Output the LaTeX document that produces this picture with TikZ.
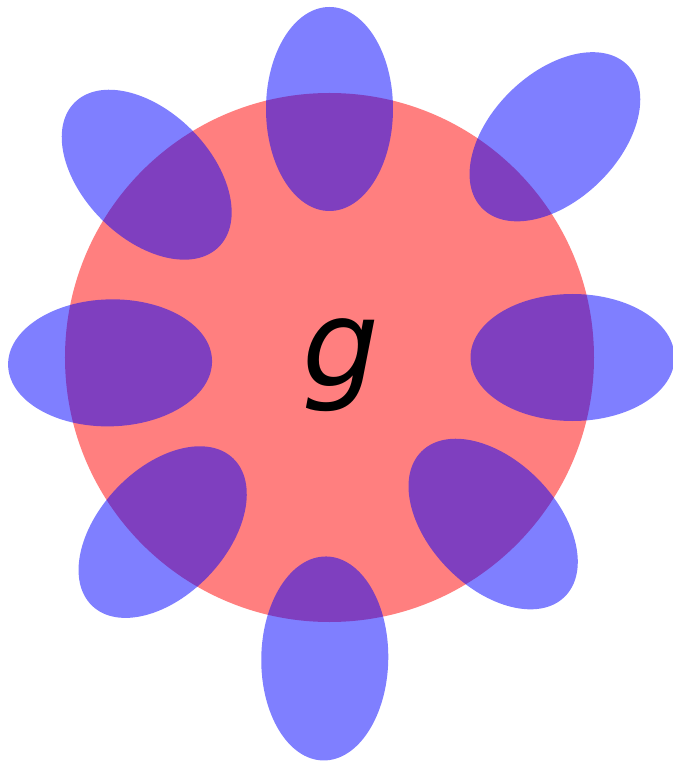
\documentclass[tikz,border=0pt]{standalone}
\usepackage{fontspec}
\newfontfamily\gfont{DejaVu Sans}
\usetikzlibrary{positioning}

\begin{document}
\begin{tikzpicture}[
    disc/.style={fill=red, fill opacity=0.5},
    petal/.style={fill=blue, fill opacity=0.5},
    glabel/.style={font=\gfont\itshape\fontsize{69}{69}\selectfont,
        inner sep=0pt, anchor=base},
]
\useasboundingbox (-6.59,-8.09) rectangle (6.87,7.15);

% ===== Central disc =====
\coordinate (centre) at (0,0);
\fill[disc] (centre) circle [radius=5.29cm];

% ===== Petals: angle / distance from the centre =====
\foreach \ang/\dist in {90/4.97, 44.4/6.31, 0/4.86, -45.5/4.67,
                        -90.9/6.02, 226.3/4.83, 181.4/4.39, 135/5.17}
    \fill[petal, shift={(\ang:\dist)}, rotate=\ang]
        (0,0) ellipse [x radius=2.04cm, y radius=1.27cm];

% ===== Label =====
\node[glabel] (g) at (0.22,-0.57) {g};

\end{tikzpicture}
\end{document}
